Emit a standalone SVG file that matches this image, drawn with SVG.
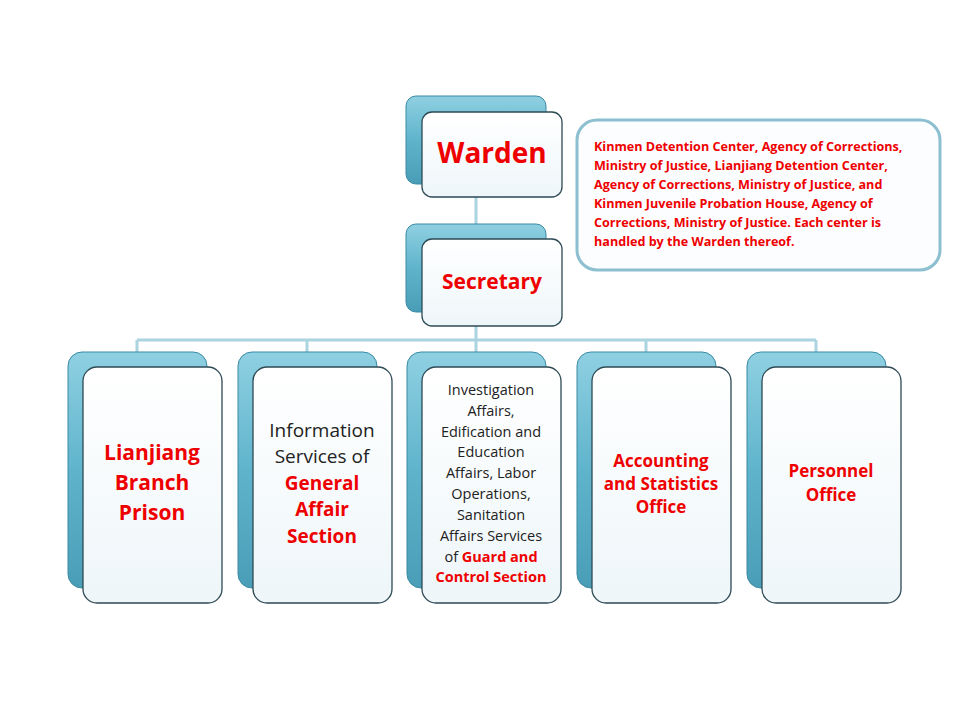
<svg xmlns="http://www.w3.org/2000/svg" width="960" height="720" viewBox="0 0 960 720">
<defs>
<linearGradient id="bk" x1="0" y1="0" x2="0" y2="1"><stop offset="0" stop-color="#8fd0e2"/><stop offset="0.5" stop-color="#5fb4cc"/><stop offset="1" stop-color="#4a9db6"/></linearGradient>
<linearGradient id="fr" x1="0" y1="0" x2="0" y2="1"><stop offset="0" stop-color="#ffffff"/><stop offset="1" stop-color="#eef6f9"/></linearGradient>
<style>
.back{fill:url(#bk);stroke:#3a8aa3;stroke-width:1}
.front{fill:url(#fr);stroke:#2e4a55;stroke-width:1.3}
.ln{stroke:#a9d4e0;stroke-width:3;fill:none}
text{font-family:"Open Sans","Liberation Sans",sans-serif;text-anchor:middle}
.r{fill:#ee0000;font-weight:bold}
.k{fill:#222}
</style>
</defs>
<rect width="960" height="720" fill="#fff"/>
<g id="connectors">
<path class="ln" d="M476 197V239M476 326V352M137 340H816M137 340V352M307 340V352M646 340V352M816 340V352"/>
</g>
<g id="warden">
<rect class="back" x="406" y="96" width="140" height="88" rx="10"/>
<rect class="front" x="422" y="112" width="140" height="85" rx="10"/>
<text class="r" x="492" y="163" font-size="28">Warden</text>
</g>
<g id="secretary">
<rect class="back" x="406" y="224" width="140" height="88" rx="10"/>
<rect class="front" x="422" y="239" width="140" height="87" rx="10"/>
<text class="r" x="492" y="289" font-size="21">Secretary</text>
</g>
<g id="note">
<rect x="577" y="120" width="363" height="150" rx="20" fill="#fbfdfe" stroke="#8cbfcf" stroke-width="3"/>
<text class="r" font-size="12.6" style="text-anchor:start"><tspan x="594" y="151">Kinmen Detention Center, Agency of Corrections,</tspan><tspan x="594" y="170">Ministry of Justice, Lianjiang Detention Center,</tspan><tspan x="594" y="189">Agency of Corrections, Ministry of Justice, and</tspan><tspan x="594" y="208">Kinmen Juvenile Probation House, Agency of</tspan><tspan x="594" y="227">Corrections, Ministry of Justice. Each center is</tspan><tspan x="594" y="246">handled by the Warden thereof.</tspan></text>
</g>
<g id="lianjiang">
<rect class="back" x="68" y="352" width="139" height="236" rx="14"/>
<rect class="front" x="83" y="367" width="139" height="236" rx="14"/>
<text class="r" font-size="21"><tspan x="152" y="460">Lianjiang</tspan><tspan x="152" y="490">Branch</tspan><tspan x="152" y="520">Prison</tspan></text>
</g>
<g id="general">
<rect class="back" x="238" y="352" width="139" height="236" rx="14"/>
<rect class="front" x="253" y="367" width="139" height="236" rx="14"/>
<text font-size="19"><tspan class="k" x="322" y="437">Information</tspan><tspan class="k" x="322" y="463">Services of</tspan><tspan class="r" x="322" y="490">General</tspan><tspan class="r" x="322" y="516">Affair</tspan><tspan class="r" x="322" y="543">Section</tspan></text>
</g>
<g id="guard">
<rect class="back" x="407" y="352" width="139" height="236" rx="14"/>
<rect class="front" x="422" y="367" width="139" height="236" rx="14"/>
<text font-size="14.5"><tspan class="k" x="491" y="395">Investigation</tspan><tspan class="k" x="491" y="416">Affairs,</tspan><tspan class="k" x="491" y="437">Edification and</tspan><tspan class="k" x="491" y="457">Education</tspan><tspan class="k" x="491" y="478">Affairs, Labor</tspan><tspan class="k" x="491" y="499">Operations,</tspan><tspan class="k" x="491" y="520">Sanitation</tspan><tspan class="k" x="491" y="541">Affairs Services</tspan><tspan class="k" x="491" y="562">of <tspan class="r">Guard and</tspan></tspan><tspan class="r" x="491" y="582">Control Section</tspan></text>
</g>
<g id="accounting">
<rect class="back" x="577" y="352" width="139" height="236" rx="14"/>
<rect class="front" x="592" y="367" width="139" height="236" rx="14"/>
<text class="r" font-size="17"><tspan x="661" y="467">Accounting</tspan><tspan x="661" y="490">and Statistics</tspan><tspan x="661" y="513">Office</tspan></text>
</g>
<g id="personnel">
<rect class="back" x="747" y="352" width="139" height="236" rx="14"/>
<rect class="front" x="762" y="367" width="139" height="236" rx="14"/>
<text class="r" font-size="17"><tspan x="831" y="477">Personnel</tspan><tspan x="831" y="501">Office</tspan></text>
</g>
</svg>
